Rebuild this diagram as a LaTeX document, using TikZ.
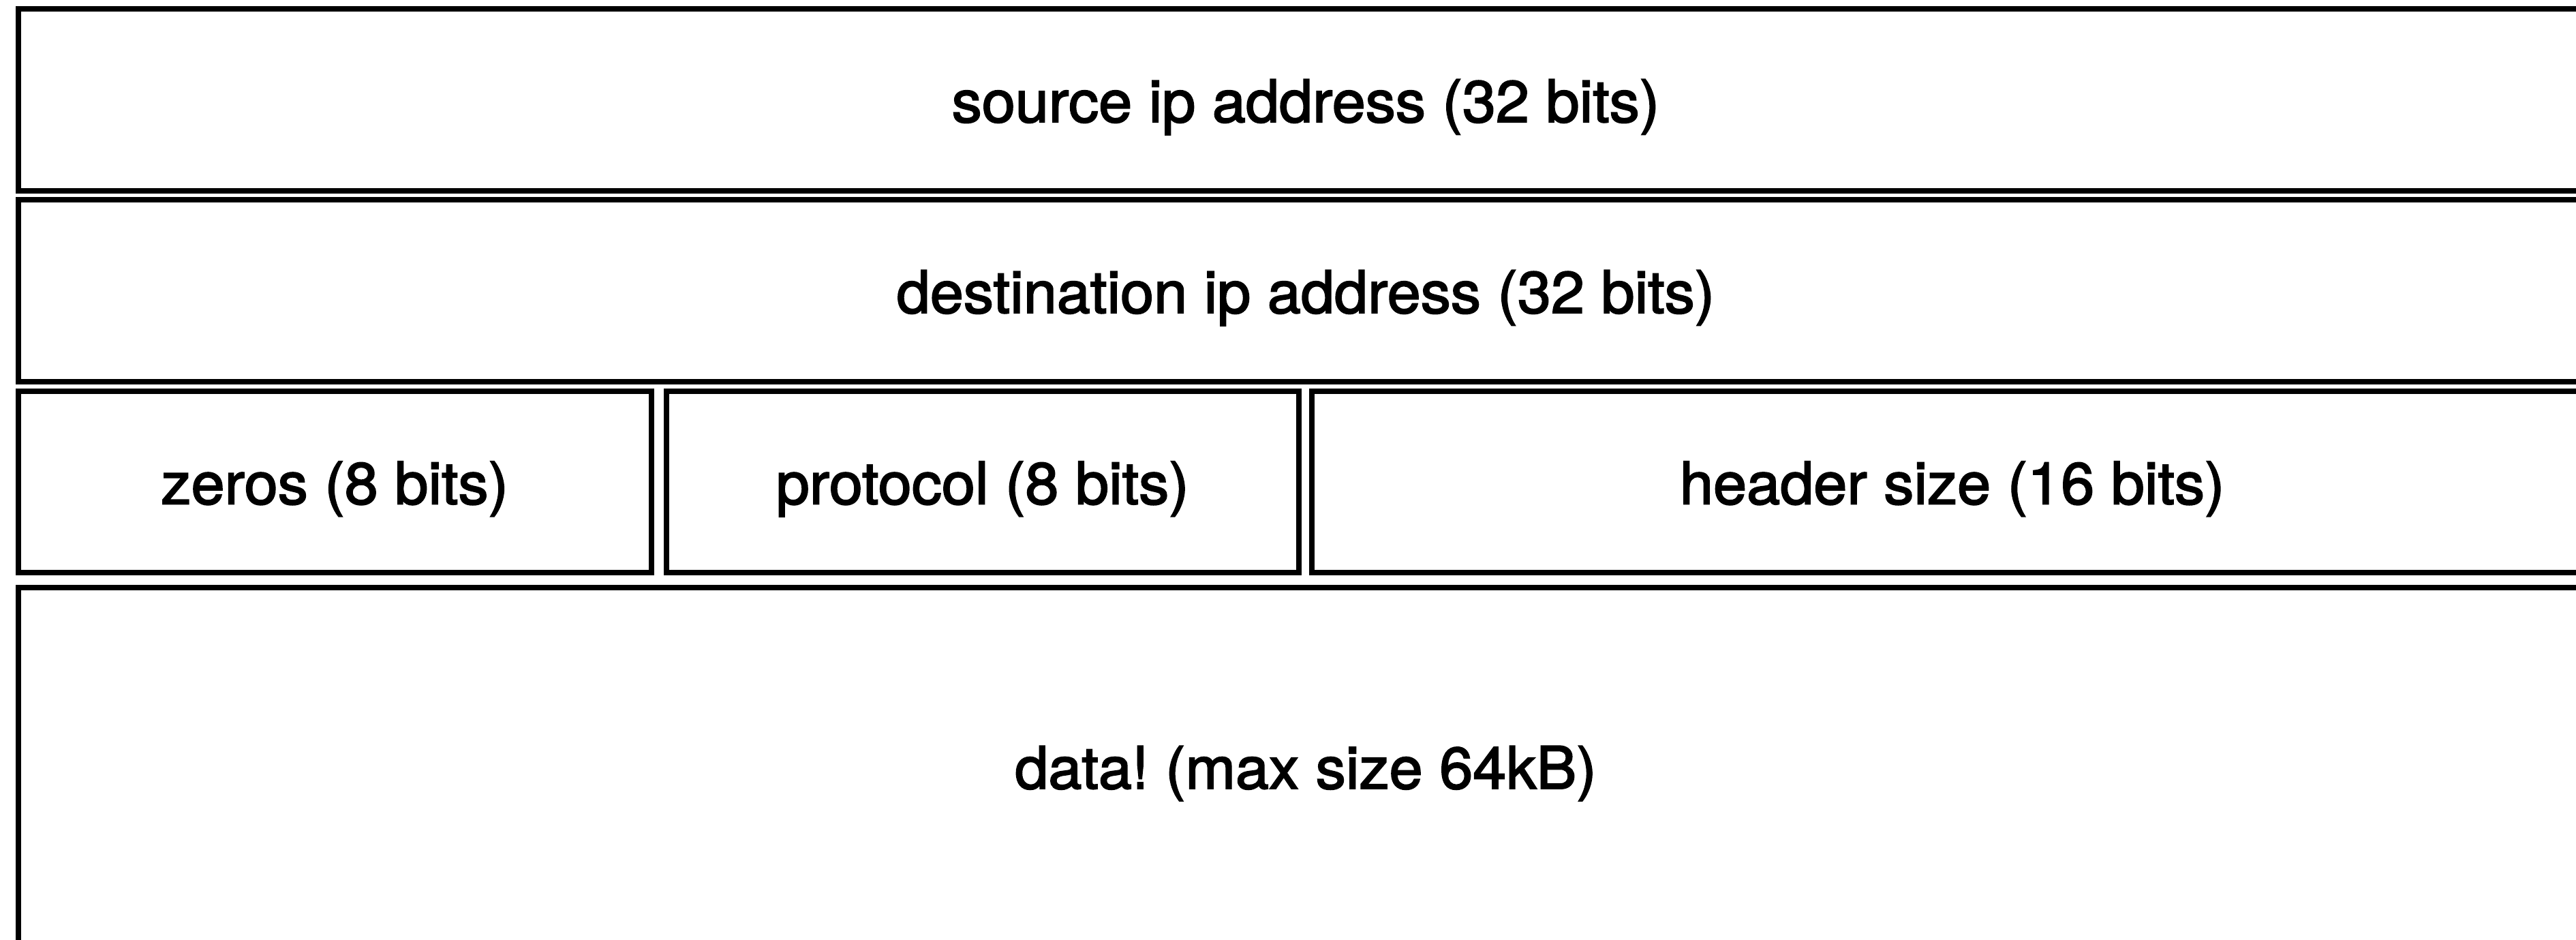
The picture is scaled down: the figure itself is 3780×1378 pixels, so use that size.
\documentclass[tikz,border=0pt]{standalone}
\usepackage{fontspec}
\setmainfont{TeX Gyre Heros}[FakeBold=2.2,FakeStretch=1.025]
\frenchspacing
\begin{document}
\begin{tikzpicture}[x=0.1mm,y=-0.1mm]
\tikzset{
  field/.style={draw=black, line width=0.8mm, rectangle, inner sep=0pt, outer sep=0pt,
    font=\fontsize{24.5}{28}\selectfont, text height=6.5mm, text depth=0mm, align=center}
}
\useasboundingbox (0,0) rectangle (3780,1378);
\fill[white] (0,0) rectangle (3780,1378);
\clip (0,0) rectangle (3780,1378);
\node[field, minimum width=377.8mm, minimum height=26.67mm] (src) at (1916,146.7) {source ip address (32 bits)};
\node[field, minimum width=377.8mm, minimum height=26.67mm] (dst) at (1916,426.7) {destination ip address (32 bits)};
\node[field, minimum width=92.85mm, minimum height=26.6mm] (zeros) at (491.25,707) {zeros (8 bits)};
\node[field, minimum width=92.75mm, minimum height=26.6mm] (proto) at (1441.75,707) {protocol (8 bits)};
\node[field, minimum width=188.05mm, minimum height=26.6mm] (hdr) at (2864.75,707) {header size (16 bits)};
\node[field, minimum width=377.8mm, minimum height=52.44mm] (data) at (1916,1124.5) {data! (max size 64kB)};
\end{tikzpicture}
\end{document}
